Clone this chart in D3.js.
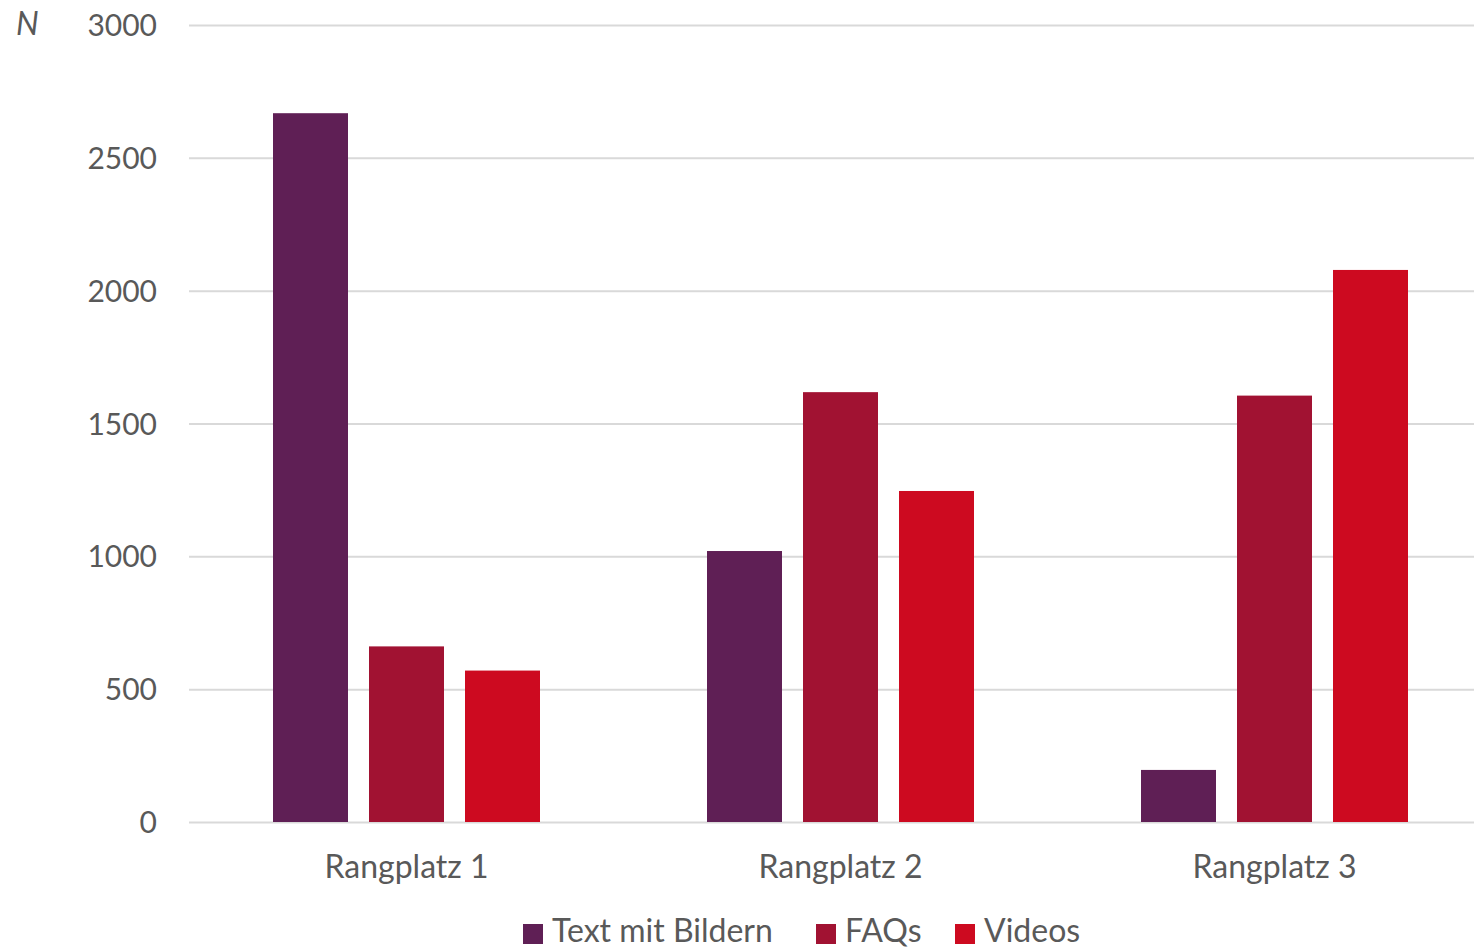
<!DOCTYPE html>
<html>
<head>
<meta charset="utf-8">
<script src="https://cdn.jsdelivr.net/npm/d3@7"></script>
<style>
  body { margin: 0; background: #fff; }
  text { font-family: Lato, "Open Sans", sans-serif; fill: #595959; }
  .grid line { stroke: #d9d9d9; stroke-width: 2; }
  .grid path { display: none; }
</style>
</head>
<body>
<div id="chart"></div>
<script>
const categories = ['Rangplatz 1', 'Rangplatz 2', 'Rangplatz 3']
const seriesNames = ['Text mit Bildern', 'FAQs', 'Videos']
const textMitBildern = [2668, 1020, 196]
const faqs = [661, 1618, 1605]
const videos = [570, 1246, 2078]
const yTicks = [0, 500, 1000, 1500, 2000, 2500, 3000]
const colors = ['#5f1f55', '#a11232', '#cd0a20']

const W = 1474, H = 952
const values = [textMitBildern, faqs, videos]

const svg = d3.select('#chart').append('svg')
  .attr('width', W)
  .attr('height', H)

const y = d3.scaleLinear().domain([0, 3000]).range([822, 25])
const x0 = d3.scaleBand().domain(categories).range([189.5, 1491.5]).padding(0)
const x1 = d3.scaleBand().domain(seriesNames)
  .range([83.5, 350.5]).paddingInner(0.21875).paddingOuter(0)

// gridlines
svg.append('g')
  .attr('class', 'grid')
  .attr('transform', 'translate(189,0)')
  .call(d3.axisLeft(y).tickValues(yTicks).tickSize(-1300).tickFormat(''))

// y tick labels
svg.append('g').selectAll('text')
  .data(yTicks)
  .join('text')
  .attr('x', 157)
  .attr('y', d => y(d) + 11)
  .attr('text-anchor', 'end')
  .style('font-size', '30px')
  .text(d => d)

svg.append('text')
  .attr('x', 16)
  .attr('y', 35)
  .style('font-size', '32px')
  .style('font-style', 'italic')
  .text('N')

// bars
const groups = svg.append('g').selectAll('g')
  .data(categories)
  .join('g')
  .attr('transform', d => `translate(${x0(d)},0)`)

groups.selectAll('rect')
  .data((c, i) => seriesNames.map((s, j) => ({ s, j, v: values[j][i] })))
  .join('rect')
  .attr('x', d => x1(d.s))
  .attr('width', x1.bandwidth())
  .attr('y', d => y(d.v))
  .attr('height', d => y(0) - y(d.v))
  .attr('fill', d => colors[d.j])

// category labels
svg.append('g').selectAll('text')
  .data(categories)
  .join('text')
  .attr('x', d => x0(d) + x0.bandwidth() / 2)
  .attr('y', 878)
  .attr('text-anchor', 'middle')
  .style('font-size', '32px')
  .text(d => d)

// legend
const legendX = [523, 816, 955]
const legend = svg.append('g').selectAll('g')
  .data(seriesNames)
  .join('g')
  .attr('transform', (d, i) => `translate(${legendX[i]},0)`)

legend.append('rect')
  .attr('x', 0)
  .attr('y', 924)
  .attr('width', 20)
  .attr('height', 20)
  .attr('fill', (d, i) => colors[i])

legend.append('text')
  .attr('x', 29)
  .attr('y', 942)
  .style('font-size', '32px')
  .text(d => d)
</script>
</body>
</html>
